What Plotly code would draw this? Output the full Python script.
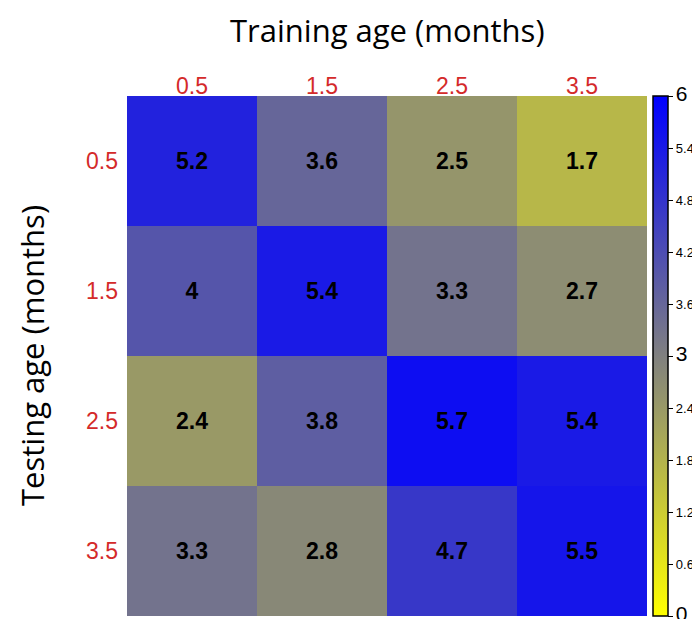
import plotly.graph_objects as go

training_age = ["0.5", "1.5", "2.5", "3.5"]
testing_age = ["0.5", "1.5", "2.5", "3.5"]
values = [
    [5.2, 3.6, 2.5, 1.7],
    [4.0, 5.4, 3.3, 2.7],
    [2.4, 3.8, 5.7, 5.4],
    [3.3, 2.8, 4.7, 5.5],
]
cbar_ticks = [0, 0.6, 1.2, 1.8, 2.4, 3, 3.6, 4.2, 4.8, 5.4, 6]

def fmt(v):
    return f"{v:g}"

cbar_text = []
for t in cbar_ticks:
    if t in (0, 3, 6):
        cbar_text.append(f"<span style='font-size:21px'>{fmt(t)}</span>")
    else:
        cbar_text.append(fmt(t))

colorscale = [
    [0.0, "rgb(255,255,0)"],
    [0.5, "rgb(128,128,128)"],
    [1.0, "rgb(0,0,255)"],
]

# page body adds an 8px offset, so positions are shifted accordingly
L, R, T, B = 119, 639, 88, 608
W, H = 700, 619

fig = go.Figure(
    go.Heatmap(
        z=values,
        x=training_age,
        y=testing_age,
        zmin=0,
        zmax=6,
        colorscale=colorscale,
        text=[[fmt(v) for v in row] for row in values],
        texttemplate="<b>%{text}</b>",
        textfont=dict(family="Liberation Sans, Arial", size=23, color="black"),
        colorbar=dict(
            x=(645 - L) / (R - L),
            xanchor="left",
            xpad=0,
            ypad=0,
            y=0.5,
            yanchor="middle",
            len=1,
            lenmode="fraction",
            thickness=15,
            outlinecolor="black",
            outlinewidth=1.5,
            tickvals=cbar_ticks,
            ticktext=cbar_text,
            ticks="outside",
            ticklen=5,
            tickcolor="black",
            tickfont=dict(family="Liberation Sans, Arial", size=13, color="black"),
        ),
        hoverinfo="skip",
    )
)

fig.update_layout(
    width=W,
    height=H,
    margin=dict(l=L, r=W - R, t=T, b=H - B, autoexpand=False),
    paper_bgcolor="white",
    plot_bgcolor="white",
    xaxis=dict(
        side="top",
        tickfont=dict(family="Liberation Sans, Arial", size=23, color="#d42a2a"),
        ticks="",
        showline=False,
        automargin=False,
        ticklabelstandoff=-4,
    ),
    yaxis=dict(
        autorange="reversed",
        tickfont=dict(family="Liberation Sans, Arial", size=23, color="#d42a2a"),
        ticks="",
        automargin=False,
        ticklabelstandoff=8,
    ),
    annotations=[
        dict(
            text="Training age (months)",
            xref="paper", yref="paper",
            x=0.5, y=1 + (T - 22) / (B - T),
            xanchor="center", yanchor="middle",
            showarrow=False,
            font=dict(family="Open Sans, Lato, sans-serif", size=31, color="black"),
        ),
        dict(
            text="Testing age (months)",
            xref="paper", yref="paper",
            x=-(L - 24) / (R - L), y=0.5,
            xanchor="center", yanchor="middle",
            textangle=-90,
            showarrow=False,
            font=dict(family="Open Sans, Lato, sans-serif", size=31, color="black"),
        ),
    ],
)

fig.write_html("out.html")
